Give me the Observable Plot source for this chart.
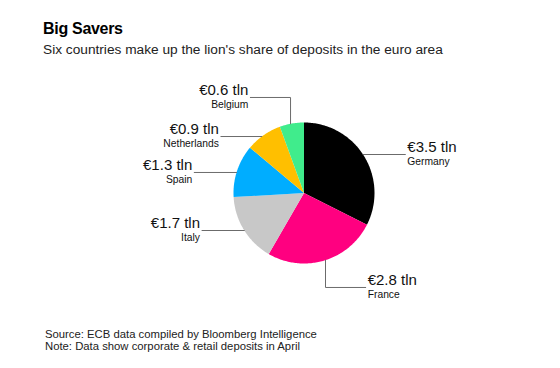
<!DOCTYPE html>
<html><head><meta charset="utf-8">
<script src="https://cdn.jsdelivr.net/npm/d3@7"></script>
<script src="https://cdn.jsdelivr.net/npm/@observablehq/plot@0.6"></script>
<style>
body{margin:0;background:#fff;font-family:"Liberation Sans",Arial,Helvetica,sans-serif;}
#wrap{position:relative;width:560px;height:368px;overflow:hidden;background:#fff}
.t{position:absolute;left:43px;white-space:nowrap;line-height:1;color:#000}
#title{top:21px;font-size:16px;font-weight:bold;letter-spacing:-0.3px}
#sub{top:42.9px;font-size:13.7px;color:#222}
#foot{top:327.5px;left:45px;font-size:11.3px;line-height:12px;color:#222}
#chart{position:absolute;left:0;top:60px}
</style></head><body>
<div id="wrap">
<div class="t" id="title">Big Savers</div>
<div class="t" id="sub">Six countries make up the lion's share of deposits in the euro area</div>
<div id="chart"></div>
<div class="t" id="foot">Source: ECB data compiled by Bloomberg Intelligence<br>Note: Data show corporate &amp; retail deposits in April</div>
</div>
<script>
// ---- data ----
const countries = ["Germany", "France", "Italy", "Spain", "Netherlands", "Belgium"];
const deposits = [3.5, 2.8, 1.7, 1.3, 0.9, 0.6];
const valueLabels = ["€3.5 tln", "€2.8 tln", "€1.7 tln", "€1.3 tln", "€0.9 tln", "€0.6 tln"];
const colors = ["#000000", "#ff0080", "#c8c8c8", "#00adff", "#ffbf00", "#40ec8c"];

// ---- layout (radius units; pie radius = 1) ----
const leaderLayout = [
  {y: -0.546, side: 1, len: 0.6},
  {x: 0.305, ey: 1.34, side: 1, len: 0.57},
  {y: 0.532, side: -1, len: 0.6},
  {y: -0.291, side: -1, len: 0.6},
  {y: -0.801, side: -1, len: 0.58},
  {x: -0.191, ey: -1.355, side: -1, len: 0.57}
];

const W = 560, H = 250, cx = 303.5, cy = 132.5, R = 70.5;

const table = countries.map((c, i) => ({name: c, value: deposits[i], label: valueLabels[i]}));
const arcs = d3.pie().sort(null).value(d => d.value).startAngle(0)(table);

const slicePts = [];
for (const a of arcs) {
  const n = Math.max(2, Math.ceil((a.endAngle - a.startAngle) / (Math.PI / 180)));
  slicePts.push({name: a.data.name, x: 0, y: 0});
  for (let k = 0; k <= n; k++) {
    const t = a.startAngle + (a.endAngle - a.startAngle) * k / n;
    slicePts.push({name: a.data.name, x: Math.sin(t), y: -Math.cos(t)});
  }
}

const leaderPts = [];
const labelPts = [];
table.forEach((d, i) => {
  const L = leaderLayout[i];
  let pts;
  if (L.y !== undefined) {
    const sx = L.side * Math.sqrt(1 - L.y * L.y);
    pts = [[sx, L.y], [sx + L.side * L.len, L.y]];
  } else {
    const sy = Math.sign(L.ey) * Math.sqrt(1 - L.x * L.x);
    pts = [[L.x, sy], [L.x, L.ey], [L.x + L.side * L.len, L.ey]];
  }
  pts.forEach(p => leaderPts.push({name: d.name, x: p[0], y: p[1]}));
  const e = pts[pts.length - 1];
  labelPts.push({name: d.name, label: d.label, side: L.side, x: e[0], y: e[1]});
});
const right = labelPts.filter(d => d.side > 0);
const left = labelPts.filter(d => d.side < 0);

const chart = Plot.plot({
  width: W, height: H,
  marginTop: 0, marginRight: 0, marginBottom: 0, marginLeft: 0,
  x: {domain: [-cx / R, (W - cx) / R], range: [0, W], axis: null},
  y: {domain: [-cy / R, (H - cy) / R], range: [0, H], axis: null},
  color: {domain: countries, range: colors},
  style: {fontFamily: '"Liberation Sans", Arial, Helvetica, sans-serif', background: "#fff", overflow: "visible"},
  marks: [
    Plot.line(slicePts, {x: "x", y: "y", z: "name", fill: "name", stroke: "none", curve: "linear-closed"}),
    Plot.line(leaderPts, {x: "x", y: "y", z: "name", stroke: "#6b6b6b", strokeWidth: 1}),
    Plot.text(right, {x: "x", y: "y", text: "label", textAnchor: "start", dx: 2, dy: -7.5, fontSize: 15, fill: "#111"}),
    Plot.text(right, {x: "x", y: "y", text: "name", textAnchor: "start", dx: 2, dy: 7.5, fontSize: 10.3, fill: "#111"}),
    Plot.text(left, {x: "x", y: "y", text: "label", textAnchor: "end", dx: -2, dy: -7.5, fontSize: 15, fill: "#111"}),
    Plot.text(left, {x: "x", y: "y", text: "name", textAnchor: "end", dx: -2, dy: 7.5, fontSize: 10.3, fill: "#111"})
  ]
});
document.getElementById("chart").appendChild(chart);
</script>
</body></html>
